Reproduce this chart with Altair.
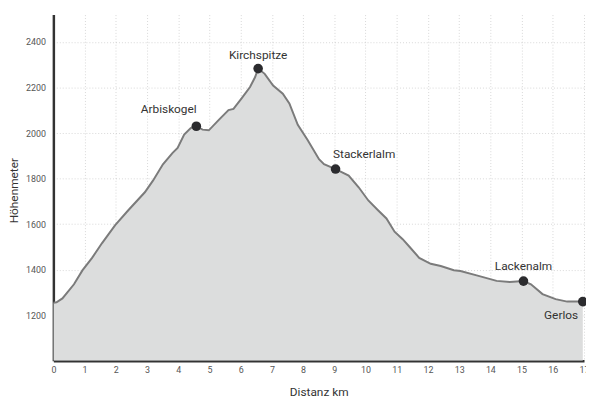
import altair as alt
import pandas as pd

# Elevation profile (distance km, elevation m)
km = [0.0, 0.1, 0.29, 0.66, 0.93, 1.24, 1.56, 1.98, 2.40, 2.93, 3.19, 3.51, 3.82, 3.98, 4.19, 4.40,
      4.58, 4.78, 4.98, 5.30, 5.61, 5.77, 6.03, 6.30, 6.46, 6.56, 6.77, 7.04, 7.35, 7.56, 7.83,
      8.14, 8.51, 8.67, 9.04, 9.46, 9.78, 10.09, 10.40, 10.67, 10.93, 11.19, 11.40, 11.72, 12.09,
      12.41, 12.83, 13.04, 13.56, 14.20, 14.62, 15.06, 15.30, 15.67, 16.09, 16.46, 16.96]
elev = [1255, 1257, 1274, 1336, 1397, 1452, 1517, 1596, 1661, 1740, 1791, 1863, 1913, 1935, 1993, 2022,
        2030, 2015, 2012, 2058, 2101, 2106, 2152, 2202, 2245, 2283, 2260, 2209, 2173, 2130, 2036,
        1971, 1885, 1863, 1842, 1813, 1762, 1704, 1661, 1625, 1567, 1534, 1502, 1452, 1426,
        1416, 1398, 1394, 1375, 1351, 1346, 1350, 1336, 1293, 1271, 1260, 1260]

# Waypoints
wp_names = ["Arbiskogel", "Kirchspitze", "Stackerlalm", "Lackenalm", "Gerlos"]
wp_km = [4.58, 6.56, 9.04, 15.06, 16.96]
wp_elev = [2030, 2283, 1842, 1350, 1260]

x_ticks = list(range(0, 18))
y_ticks = [1200, 1400, 1600, 1800, 2000, 2200, 2400]

profile = pd.DataFrame({"km": km, "elev": elev})
wps = pd.DataFrame({"name": wp_names, "km": wp_km, "elev": wp_elev})

FONT = "Roboto"

x_enc = alt.X("km:Q", scale=alt.Scale(domain=[0, 17], nice=False, zero=False),
              axis=alt.Axis(values=x_ticks, title="Distanz km", labelFlush=False,
                            labelOverlap=False, format="d"))
y_enc = alt.Y("elev:Q", scale=alt.Scale(domain=[1000, 2520], nice=False, zero=False),
              axis=alt.Axis(values=y_ticks, title="Höhenmeter", format="d",
                            titleX=-33, titleY=178, titleAngle=-90,
                            titleAlign="center", titleBaseline="bottom"))

area = alt.Chart(profile).mark_area(
    color="#dcdddd", opacity=1, clip=True,
    line={"color": "#7b7b7b", "strokeWidth": 2}
).encode(x=x_enc, y=y_enc, y2=alt.datum(1000))

points = alt.Chart(wps).mark_circle(size=95, color="#2b2b2e", opacity=1).encode(
    x=x_enc, y=y_enc)

offsets = {
    "Arbiskogel": (-28, -17),
    "Kirchspitze": (0, -14),
    "Stackerlalm": (29, -15),
    "Lackenalm": (0, -15),
    "Gerlos": (-22, 14),
}
labels = []
for n in wp_names:
    dx, dy = offsets[n]
    labels.append(
        alt.Chart(wps).transform_filter(alt.datum.name == n).mark_text(
            font=FONT, fontSize=12, color="#333333", dx=dx, dy=dy, baseline="middle", align="center"
        ).encode(x=x_enc, y=y_enc, text="name:N")
    )

chart = alt.layer(area, points, *labels).properties(
    width=538, height=351,
    autosize=alt.AutoSizeParams(type="none"),
    padding={"left": 46, "top": 4, "right": 2, "bottom": 37},
).configure_view(strokeWidth=0).configure_axis(
    labelFont=FONT, labelFontSize=9, labelColor="#555555",
    titleFont=FONT, titleFontSize=12, titleColor="#333333", titleFontWeight="normal",
    domainColor="#333333", domainWidth=2.5, ticks=False,
    gridColor="#b0b0b0", gridDash=[1, 2], gridWidth=1, gridOpacity=0.5,
    labelOverlap=False,
    zindex=1,
).configure_axisY(
    labelPadding=8,
).configure_axisX(
    labelPadding=5, titlePadding=12,
)

chart.save("out.html", embed_options={"renderer": "svg", "actions": False})
